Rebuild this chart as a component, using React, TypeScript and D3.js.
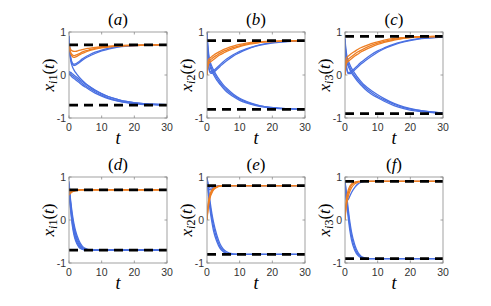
import React from "react";
import * as d3 from "d3";

const T = [0, 0.25, 0.5, 1, 1.5, 2, 3, 4, 5, 6, 8, 10, 12, 15, 18, 22, 26, 30];
const xTicks = [0, 10, 20, 30];
const yTicks = [-1, 0, 1];
const titles = ["(a)", "(b)", "(c)", "(d)", "(e)", "(f)"];
const ySubs = ["i1", "i2", "i3", "i1", "i2", "i3"];
const targets = [0.7, 0.8, 0.9, 0.7, 0.8, 0.9];

// Panel (a)
const aOrange1 = [0.70, 0.64, 0.60, 0.56, 0.55, 0.55, 0.57, 0.59, 0.61, 0.62, 0.64, 0.66, 0.67, 0.68, 0.69, 0.70, 0.70, 0.70];
const aOrange2 = [0.68, 0.60, 0.53, 0.47, 0.45, 0.46, 0.49, 0.53, 0.56, 0.58, 0.62, 0.64, 0.66, 0.68, 0.69, 0.69, 0.70, 0.70];
const aOrange3 = [0.66, 0.57, 0.50, 0.43, 0.41, 0.42, 0.46, 0.50, 0.53, 0.56, 0.60, 0.63, 0.65, 0.67, 0.68, 0.69, 0.70, 0.70];
const aBlue1 = [0.90, 0.60, 0.42, 0.28, 0.25, 0.26, 0.31, 0.37, 0.42, 0.46, 0.53, 0.58, 0.62, 0.66, 0.68, 0.69, 0.70, 0.70];
const aBlue2 = [0.85, 0.55, 0.38, 0.26, 0.22, 0.23, 0.28, 0.34, 0.39, 0.43, 0.50, 0.56, 0.60, 0.65, 0.67, 0.69, 0.70, 0.70];
const aBlue3 = [0.92, 0.55, 0.35, 0.20, 0.12, 0.06, -0.04, -0.12, -0.19, -0.25, -0.35, -0.43, -0.50, -0.57, -0.62, -0.66, -0.68, -0.69];
const aBlue4 = [0.08, 0.07, 0.06, 0.03, 0.00, -0.03, -0.09, -0.15, -0.21, -0.26, -0.36, -0.44, -0.50, -0.57, -0.62, -0.66, -0.68, -0.69];
const aBlue5 = [0.05, 0.04, 0.02, -0.01, -0.04, -0.07, -0.13, -0.19, -0.25, -0.30, -0.39, -0.47, -0.53, -0.60, -0.64, -0.67, -0.69, -0.70];
const aBlue6 = [0.02, 0.01, -0.01, -0.05, -0.08, -0.11, -0.17, -0.23, -0.28, -0.33, -0.42, -0.49, -0.55, -0.61, -0.65, -0.68, -0.69, -0.70];

// Panel (b)
const bOrange1 = [0.00, 0.30, 0.36, 0.40, 0.43, 0.46, 0.51, 0.55, 0.59, 0.62, 0.67, 0.71, 0.74, 0.77, 0.78, 0.79, 0.80, 0.80];
const bOrange2 = [0.00, 0.25, 0.31, 0.35, 0.38, 0.41, 0.46, 0.51, 0.55, 0.58, 0.64, 0.68, 0.72, 0.75, 0.77, 0.79, 0.80, 0.80];
const bOrange3 = [0.00, 0.20, 0.26, 0.30, 0.33, 0.36, 0.42, 0.47, 0.51, 0.55, 0.61, 0.66, 0.70, 0.74, 0.77, 0.78, 0.79, 0.80];
const bBlue1 = [1.00, 0.45, 0.22, 0.08, 0.07, 0.10, 0.17, 0.24, 0.31, 0.37, 0.47, 0.55, 0.61, 0.68, 0.73, 0.77, 0.79, 0.80];
const bBlue2 = [0.95, 0.40, 0.18, 0.05, 0.04, 0.06, 0.13, 0.20, 0.27, 0.33, 0.44, 0.52, 0.59, 0.67, 0.72, 0.76, 0.78, 0.79];
const bBlue3 = [1.00, 0.70, 0.50, 0.30, 0.20, 0.12, -0.02, -0.13, -0.23, -0.31, -0.44, -0.54, -0.61, -0.69, -0.74, -0.77, -0.79, -0.80];
const bBlue4 = [0.98, 0.62, 0.42, 0.24, 0.14, 0.06, -0.07, -0.18, -0.27, -0.35, -0.47, -0.56, -0.63, -0.70, -0.74, -0.77, -0.79, -0.80];
const bBlue5 = [0.90, 0.55, 0.36, 0.18, 0.08, 0.01, -0.12, -0.22, -0.31, -0.39, -0.50, -0.59, -0.65, -0.71, -0.75, -0.78, -0.79, -0.80];

// Panel (c)
const cOrange1 = [0.00, 0.35, 0.40, 0.44, 0.47, 0.50, 0.55, 0.60, 0.64, 0.67, 0.73, 0.77, 0.81, 0.85, 0.87, 0.89, 0.90, 0.90];
const cOrange2 = [0.00, 0.28, 0.33, 0.37, 0.40, 0.43, 0.49, 0.54, 0.58, 0.62, 0.69, 0.74, 0.78, 0.83, 0.86, 0.88, 0.89, 0.90];
const cOrange3 = [0.00, 0.22, 0.28, 0.32, 0.35, 0.38, 0.44, 0.49, 0.54, 0.58, 0.65, 0.71, 0.76, 0.81, 0.85, 0.88, 0.89, 0.90];
const cBlue1 = [0.85, 0.40, 0.18, 0.06, 0.06, 0.09, 0.16, 0.23, 0.30, 0.36, 0.47, 0.56, 0.63, 0.72, 0.78, 0.84, 0.87, 0.89];
const cBlue2 = [0.80, 0.35, 0.15, 0.03, 0.03, 0.05, 0.12, 0.19, 0.26, 0.32, 0.43, 0.53, 0.61, 0.70, 0.77, 0.83, 0.86, 0.88];
const cBlue3 = [0.85, 0.62, 0.48, 0.33, 0.24, 0.16, 0.04, -0.07, -0.16, -0.24, -0.36, -0.46, -0.55, -0.66, -0.74, -0.81, -0.85, -0.88];
const cBlue4 = [0.80, 0.55, 0.40, 0.26, 0.17, 0.10, -0.02, -0.12, -0.20, -0.28, -0.40, -0.50, -0.58, -0.68, -0.76, -0.82, -0.86, -0.89];
const cBlue5 = [0.75, 0.48, 0.33, 0.20, 0.12, 0.05, -0.06, -0.16, -0.24, -0.32, -0.44, -0.53, -0.61, -0.71, -0.78, -0.84, -0.87, -0.89];

// Panel (d)
const dOrange1 = [0.62, 0.63, 0.65, 0.67, 0.68, 0.69, 0.70, 0.70, 0.70, 0.70, 0.70, 0.70, 0.70, 0.70, 0.70, 0.70, 0.70, 0.70];
const dOrange2 = [0.58, 0.60, 0.62, 0.65, 0.67, 0.68, 0.69, 0.70, 0.70, 0.70, 0.70, 0.70, 0.70, 0.70, 0.70, 0.70, 0.70, 0.70];
const dOrange3 = [0.66, 0.67, 0.68, 0.69, 0.70, 0.70, 0.70, 0.70, 0.70, 0.70, 0.70, 0.70, 0.70, 0.70, 0.70, 0.70, 0.70, 0.70];
const dBlue1 = [0.90, 0.65, 0.45, 0.15, -0.08, -0.25, -0.47, -0.60, -0.66, -0.69, -0.70, -0.70, -0.70, -0.70, -0.70, -0.70, -0.70, -0.70];
const dBlue2 = [0.85, 0.60, 0.40, 0.08, -0.15, -0.32, -0.52, -0.63, -0.68, -0.70, -0.70, -0.70, -0.70, -0.70, -0.70, -0.70, -0.70, -0.70];
const dBlue3 = [0.75, 0.55, 0.35, 0.02, -0.22, -0.38, -0.56, -0.65, -0.69, -0.70, -0.70, -0.70, -0.70, -0.70, -0.70, -0.70, -0.70, -0.70];
const dBlue4 = [0.70, 0.48, 0.28, -0.05, -0.28, -0.43, -0.60, -0.67, -0.69, -0.70, -0.70, -0.70, -0.70, -0.70, -0.70, -0.70, -0.70, -0.70];
const dBlue5 = [0.65, 0.42, 0.22, -0.12, -0.34, -0.48, -0.63, -0.68, -0.70, -0.70, -0.70, -0.70, -0.70, -0.70, -0.70, -0.70, -0.70, -0.70];

// Panel (e)
const eOrange1 = [0.00, 0.25, 0.40, 0.58, 0.67, 0.72, 0.77, 0.79, 0.80, 0.80, 0.80, 0.80, 0.80, 0.80, 0.80, 0.80, 0.80, 0.80];
const eOrange2 = [0.00, 0.20, 0.34, 0.53, 0.63, 0.70, 0.76, 0.79, 0.80, 0.80, 0.80, 0.80, 0.80, 0.80, 0.80, 0.80, 0.80, 0.80];
const eOrange3 = [0.00, 0.30, 0.45, 0.62, 0.70, 0.74, 0.78, 0.80, 0.80, 0.80, 0.80, 0.80, 0.80, 0.80, 0.80, 0.80, 0.80, 0.80];
const eBlue1 = [1.00, 0.85, 0.78, 0.74, 0.75, 0.77, 0.79, 0.80, 0.80, 0.80, 0.80, 0.80, 0.80, 0.80, 0.80, 0.80, 0.80, 0.80];
const eBlue2 = [0.95, 0.80, 0.72, 0.70, 0.72, 0.75, 0.78, 0.80, 0.80, 0.80, 0.80, 0.80, 0.80, 0.80, 0.80, 0.80, 0.80, 0.80];
const eBlue3 = [1.00, 0.85, 0.70, 0.40, 0.15, -0.05, -0.35, -0.56, -0.68, -0.74, -0.79, -0.80, -0.80, -0.80, -0.80, -0.80, -0.80, -0.80];
const eBlue4 = [0.98, 0.80, 0.62, 0.30, 0.05, -0.15, -0.43, -0.62, -0.72, -0.77, -0.80, -0.80, -0.80, -0.80, -0.80, -0.80, -0.80, -0.80];
const eBlue5 = [0.95, 0.75, 0.55, 0.20, -0.05, -0.25, -0.50, -0.66, -0.74, -0.78, -0.80, -0.80, -0.80, -0.80, -0.80, -0.80, -0.80, -0.80];

// Panel (f)
const fOrange1 = [0.00, 0.30, 0.45, 0.63, 0.74, 0.81, 0.87, 0.89, 0.90, 0.90, 0.90, 0.90, 0.90, 0.90, 0.90, 0.90, 0.90, 0.90];
const fOrange2 = [0.00, 0.22, 0.36, 0.55, 0.67, 0.75, 0.84, 0.88, 0.90, 0.90, 0.90, 0.90, 0.90, 0.90, 0.90, 0.90, 0.90, 0.90];
const fOrange3 = [0.00, 0.35, 0.52, 0.70, 0.79, 0.84, 0.88, 0.90, 0.90, 0.90, 0.90, 0.90, 0.90, 0.90, 0.90, 0.90, 0.90, 0.90];
const fBlue1 = [0.85, 0.55, 0.45, 0.48, 0.56, 0.64, 0.76, 0.84, 0.88, 0.90, 0.90, 0.90, 0.90, 0.90, 0.90, 0.90, 0.90, 0.90];
const fBlue2 = [0.90, 0.70, 0.50, 0.15, -0.15, -0.38, -0.65, -0.80, -0.86, -0.89, -0.90, -0.90, -0.90, -0.90, -0.90, -0.90, -0.90, -0.90];
const fBlue3 = [0.85, 0.60, 0.40, 0.05, -0.25, -0.47, -0.71, -0.83, -0.88, -0.90, -0.90, -0.90, -0.90, -0.90, -0.90, -0.90, -0.90, -0.90];
const fBlue4 = [0.90, 0.75, 0.58, 0.25, -0.05, -0.28, -0.58, -0.76, -0.85, -0.88, -0.90, -0.90, -0.90, -0.90, -0.90, -0.90, -0.90, -0.90];

const orangeSets = [
  [aOrange1, aOrange2, aOrange3],
  [bOrange1, bOrange2, bOrange3],
  [cOrange1, cOrange2, cOrange3],
  [dOrange1, dOrange2, dOrange3],
  [eOrange1, eOrange2, eOrange3],
  [fOrange1, fOrange2, fOrange3],
];
const blueSets = [
  [aBlue1, aBlue2, aBlue3, aBlue4, aBlue5, aBlue6],
  [bBlue1, bBlue2, bBlue3, bBlue4, bBlue5],
  [cBlue1, cBlue2, cBlue3, cBlue4, cBlue5],
  [dBlue1, dBlue2, dBlue3, dBlue4, dBlue5],
  [eBlue1, eBlue2, eBlue3, eBlue4, eBlue5],
  [fBlue1, fBlue2, fBlue3, fBlue4],
];

const BLUE = "#4A70E2";
const ORANGE = "#EE7E22";
const AXIS = "#8a8a8a";
const TXT = "#333333";
const SERIF = "'Liberation Serif', 'DejaVu Serif', serif";
const SANS = "'Liberation Sans', Arial, sans-serif";

const colX = [69, 207, 345];
const rowY = [32, 177];
const PW = 98;
const PH = 86;

function Panel({ idx }: { idx: number }) {
  const x0 = colX[idx % 3];
  const y0 = rowY[Math.floor(idx / 3)];
  const x = d3.scaleLinear().domain([0, 30]).range([x0, x0 + PW]);
  const y = d3.scaleLinear().domain([-1, 1]).range([y0 + PH, y0]);
  const line = d3
    .line<number>()
    .x((_, i) => x(T[i]))
    .y((v) => y(v))
    .curve(d3.curveMonotoneX);
  const clipId = `clip${idx}`;
  const tgt = targets[idx];
  const cx = x0 + PW / 2;
  const cy = y0 + PH / 2;
  return (
    <g>
      <defs>
        <clipPath id={clipId}>
          <rect x={x0} y={y0} width={PW} height={PH} />
        </clipPath>
      </defs>
      <rect x={x0} y={y0} width={PW} height={PH} fill="#fff" />
      <g clipPath={`url(#${clipId})`}>
        {blueSets[idx].map((s, i) => (
          <path key={"b" + i} d={line(s) || ""} fill="none" stroke={BLUE} strokeWidth={1.3} />
        ))}
        {orangeSets[idx].map((s, i) => (
          <path key={"o" + i} d={line(s) || ""} fill="none" stroke={ORANGE} strokeWidth={1.3} />
        ))}
        {[tgt, -tgt].map((v, i) => (
          <line
            key={"d" + i}
            x1={x(0)}
            x2={x(30)}
            y1={y(v)}
            y2={y(v)}
            stroke="#000"
            strokeWidth={2.8}
            strokeDasharray="9,6"
          />
        ))}
      </g>
      <rect x={x0} y={y0} width={PW} height={PH} fill="none" stroke={AXIS} strokeWidth={0.8} />
      {xTicks.map((t) => (
        <g key={"xt" + t}>
          <line x1={x(t)} x2={x(t)} y1={y0 + PH} y2={y0 + PH - 2.5} stroke={AXIS} strokeWidth={0.8} />
          <line x1={x(t)} x2={x(t)} y1={y0} y2={y0 + 2.5} stroke={AXIS} strokeWidth={0.8} />
          <text x={x(t)} y={y0 + PH + 13} textAnchor="middle" fontFamily={SANS} fontSize={10.5} fill={TXT}>
            {t}
          </text>
        </g>
      ))}
      {yTicks.map((t) => (
        <g key={"yt" + t}>
          <line x1={x0} x2={x0 + 2.5} y1={y(t)} y2={y(t)} stroke={AXIS} strokeWidth={0.8} />
          <line x1={x0 + PW} x2={x0 + PW - 2.5} y1={y(t)} y2={y(t)} stroke={AXIS} strokeWidth={0.8} />
          <text x={x0 - 3} y={y(t) + 3.8} textAnchor="end" fontFamily={SANS} fontSize={10.5} fill={TXT}>
            {t}
          </text>
        </g>
      ))}
      <text x={cx} y={y0 - 7} textAnchor="middle" fontFamily={SERIF} fontSize={17} fill="#000">
        ({<tspan fontStyle="italic">{titles[idx].slice(1, 2)}</tspan>})
      </text>
      <text x={cx} y={y0 + PH + 26} textAnchor="middle" fontFamily={SERIF} fontStyle="italic" fontSize={18} fill="#000">
        t
      </text>
      <text
        transform={`translate(${x0 - 15},${cy}) rotate(-90)`}
        textAnchor="middle"
        fontFamily={SERIF}
        fontSize={17}
        fill="#000"
      >
        <tspan fontStyle="italic">x</tspan>
        <tspan fontSize={12} dy={3}>
          <tspan fontStyle="italic">{ySubs[idx].slice(0, 1)}</tspan>
          {ySubs[idx].slice(1)}
        </tspan>
        <tspan dy={-3}>(</tspan>
        <tspan fontStyle="italic">t</tspan>
        <tspan>)</tspan>
      </text>
    </g>
  );
}

export default function App() {
  return (
    <svg width={491} height={306} style={{ position: "absolute", left: 0, top: 0, background: "#fff" }}>
      <rect width={491} height={306} fill="#fff" />
      {titles.map((_, i) => (
        <Panel key={i} idx={i} />
      ))}
    </svg>
  );
}
